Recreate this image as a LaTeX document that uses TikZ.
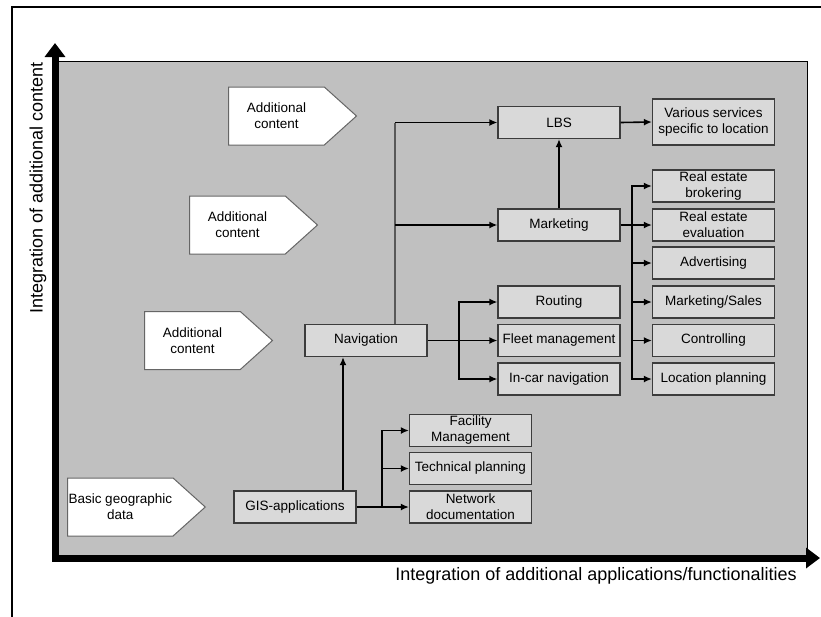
\documentclass[tikz,border=0pt]{standalone}
\usepackage{fontspec}
\setmainfont{Liberation Sans}
\usepackage{tikz}
\usetikzlibrary{shapes.symbols, arrows.meta, positioning, calc}
\definecolor{areagray}{HTML}{C0C0C0}
\definecolor{boxgray}{HTML}{D9D9D9}
\definecolor{edgegray}{HTML}{3C3C3C}

\begin{document}
\begin{tikzpicture}[
  x=1pt, y=-1pt,
  appbox/.style={
    rectangle,
    draw=edgegray,
    line width=1.2pt,
    fill=boxgray,
    minimum width=122pt,
    minimum height=32pt,
    inner sep=1pt,
    align=center,
    font=\fontsize{13.5}{16}\selectfont
  },
  contentbox/.style={
    signal, signal to=east, signal pointer angle=84,
    draw=black!60,
    line width=1pt,
    fill=white,
    minimum width=128pt,
    minimum height=58pt,
    inner sep=1pt,
    align=center,
    anchor=west,
    font=\fontsize{13.5}{16}\selectfont
  },
  arrow/.style={-{Latex[length=8pt,width=7pt]}, line width=1.6pt, black},
  trunk/.style={line width=1.4pt, black!65},
  axis/.style={-{Triangle[length=14pt,width=20pt]}, line width=7pt, black},
  axislabel/.style={font=\fontsize{18}{21}\selectfont}
]
  \useasboundingbox (0,0) rectangle (821,616);
  \draw[line width=2.5pt] (12,620) -- (12,7) -- (825,7);
  \fill[areagray] (52,61) rectangle (807,558);
  \draw[line width=1pt] (52,61) -- (807,61) -- (807,558);

  \node[contentbox] (add1) at (228,116) {Additional\\content};
  \node[contentbox] (add2) at (189,225) {Additional\\content};
  \node[contentbox] (add3) at (144,340.5) {Additional\\content};
  \node[contentbox] (basic) at (67,507) {Basic geographic\\data};

  \node[appbox] (gis) at (295,507) {GIS-applications};
  \node[appbox] (nav) at (366,340.5) {Navigation};
  \node[appbox] (lbs) at (559,122.5) {LBS};
  \node[appbox] (mkt) at (559,225) {Marketing};
  \node[appbox, minimum height=46pt] (various) at (713.5,122) {Various services\\specific to location};

  \node[appbox] (routing) at (559,302) {Routing};
  \node[appbox] (fleet) at (559,340.5) {Fleet management};
  \node[appbox] (incar) at (559,379) {In-car navigation};

  \node[appbox] (brok) at (713.5,186) {Real estate\\brokering};
  \node[appbox] (eval) at (713.5,225) {Real estate\\evaluation};
  \node[appbox] (adv) at (713.5,263) {Advertising};
  \node[appbox] (sales) at (713.5,302) {Marketing/Sales};
  \node[appbox] (ctrl) at (713.5,340.5) {Controlling};
  \node[appbox] (locplan) at (713.5,379) {Location planning};

  \node[appbox] (facility) at (470.5,430.5) {Facility\\Management};
  \node[appbox] (tech) at (470.5,468.5) {Technical planning};
  \node[appbox] (netdoc) at (470.5,507) {Network\\documentation};

  \coordinate (gisup) at ([xshift=48pt]gis.north);
  \coordinate (gisfork) at (382,507);
  \coordinate (navtop) at ([xshift=29pt]nav.north);
  \coordinate (navfork) at (459,340.5);
  \coordinate (mktfork) at (632,225);

  \draw[arrow] (gisup) -- (gisup |- nav.south);
  \draw[arrow] (gis.east) -- (netdoc.west);
  \draw[arrow] (gisfork) |- (facility.west);
  \draw[arrow] (gisfork) |- (tech.west);

  \draw[trunk] (navtop) -- (navtop |- lbs.west);
  \draw[arrow] (navtop |- lbs.west) -- (lbs.west);
  \draw[arrow] (navtop |- mkt.west) -- (mkt.west);
  \draw[arrow] (nav.east) -- (fleet.west);
  \draw[arrow] (navfork) |- (routing.west);
  \draw[arrow] (navfork) |- (incar.west);

  \draw[arrow] (mkt.north) -- (lbs.south);
  \draw[arrow] (lbs.east) -- (various.west);
  \draw[arrow] (mkt.east) -- (eval.west);
  \draw[arrow] (mktfork) |- (brok.west);
  \draw[arrow] (mktfork) |- (adv.west);
  \draw[arrow] (mktfork) |- (sales.west);
  \draw[arrow] (mktfork) |- (ctrl.west);
  \draw[arrow] (mktfork) |- (locplan.west);

  \draw[axis] (52,558) -- (820,558);
  \draw[axis] (55,561.5) -- (55,43);
  \node[axislabel, rotate=90] (ylabel) at (38,188) {Integration of additional content};
  \node[axislabel] (xlabel) at (596,576) {Integration of additional applications/functionalities};
\end{tikzpicture}
\end{document}
